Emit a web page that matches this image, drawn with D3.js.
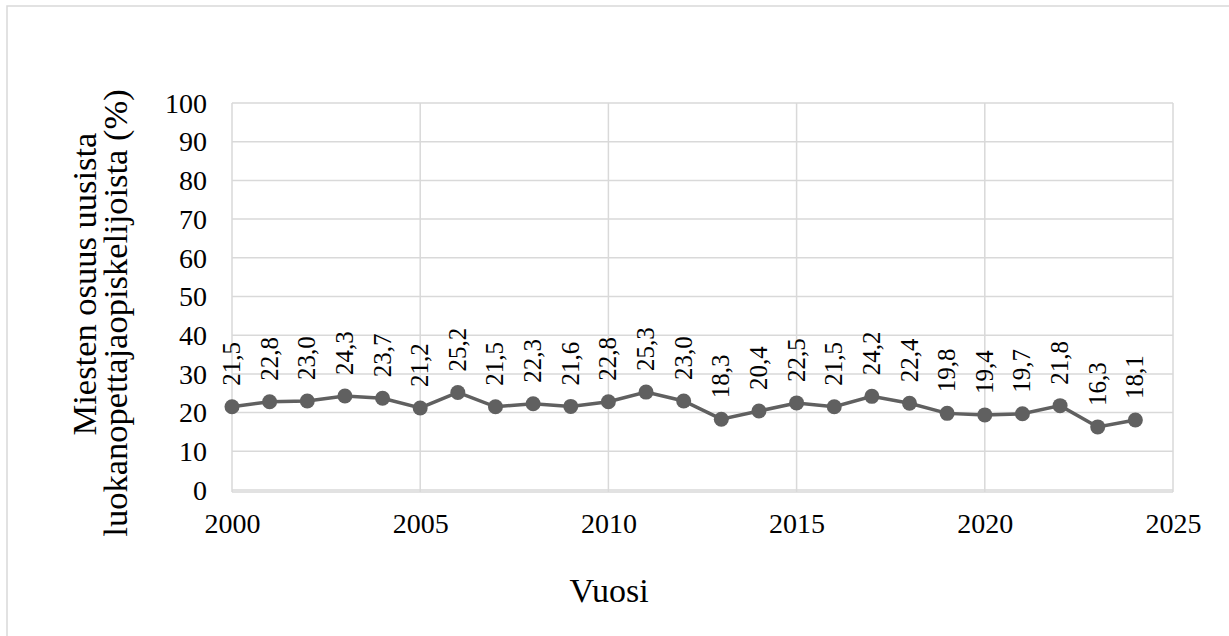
<!DOCTYPE html>
<html><head><meta charset="utf-8">
<script src="https://cdn.jsdelivr.net/npm/d3@7"></script>
<style>body{margin:0;background:#fff}</style>
</head><body>
<svg id="c" width="1229" height="636"></svg>
<script>
const years=[2000,2001,2002,2003,2004,2005,2006,2007,2008,2009,2010,2011,2012,2013,2014,2015,2016,2017,2018,2019,2020,2021,2022,2023,2024];
const values=[21.5,22.8,23.0,24.3,23.7,21.2,25.2,21.5,22.3,21.6,22.8,25.3,23.0,18.3,20.4,22.5,21.5,24.2,22.4,19.8,19.4,19.7,21.8,16.3,18.1];
const xTicks=[2000,2005,2010,2015,2020,2025];
const yTicks=[0,10,20,30,40,50,60,70,80,90,100];
const xTitle="Vuosi";
const yTitle=["Miesten osuus uusista","luokanopettajaopiskelijoista (%)"];

const FF='"Liberation Serif","Times New Roman",serif';
const svg=d3.select("#c");
svg.append("rect").attr("x",7).attr("y",6).attr("width",1240).attr("height",640).attr("fill","none").attr("stroke","#d9d9d9").attr("stroke-width",1.5);
const L=232,R=1173,T=103,B=490;
const x=d3.scaleLinear().domain([2000,2025]).range([L,R]);
const y=d3.scaleLinear().domain([0,100]).range([B,T]);
const g=svg.append("g");
g.selectAll(".hg").data(yTicks).join("line").attr("x1",L).attr("x2",R).attr("y1",d=>y(d)).attr("y2",d=>y(d)).attr("stroke","#d9d9d9").attr("stroke-width",1.5);
g.selectAll(".vg").data(xTicks).join("line").attr("x1",d=>x(d)).attr("x2",d=>x(d)).attr("y1",T).attr("y2",B+2).attr("stroke","#d9d9d9").attr("stroke-width",1.5);
g.append("line").attr("x1",L).attr("x2",R).attr("y1",B+2).attr("y2",B+2).attr("stroke","#d9d9d9").attr("stroke-width",1.5);

const ya=d3.axisLeft(y).tickValues(yTicks).tickSize(0).tickPadding(0);
svg.append("g").attr("transform",`translate(${207},0)`).call(ya).call(a=>a.select(".domain").remove())
 .selectAll("text").style("font-size","28px").style("font-family",FF).attr("fill","#000").attr("dy","0.33em");
const xa=d3.axisBottom(x).tickValues(xTicks).tickFormat(d3.format("d")).tickSize(0).tickPadding(0);
svg.append("g").attr("transform",`translate(0,${533})`).call(xa).call(a=>a.select(".domain").remove())
 .selectAll("text").style("font-size","28px").style("font-family",FF).attr("fill","#000").attr("y",0).attr("dy","0");

const line=d3.line().x((d,i)=>x(years[i])).y(d=>y(d));
svg.append("path").datum(values).attr("d",line).attr("fill","none").attr("stroke","#606060").attr("stroke-width",3.5);
svg.selectAll(".pt").data(values).join("circle").attr("cx",(d,i)=>x(years[i])).attr("cy",d=>y(d)).attr("r",7.5).attr("fill","#606060");
const fmt=v=>v.toFixed(1).replace(".",",");
svg.selectAll(".lb").data(values).join("text")
 .attr("transform",(d,i)=>`translate(${x(years[i])+8},${y(d)-21}) rotate(-90)`)
 .style("font-size","25px").style("font-family",FF).attr("text-anchor","start").text(fmt);

svg.append("text").attr("x",609).attr("y",602).attr("text-anchor","middle").style("font-size","34px").style("font-family",FF).text(xTitle);
svg.append("text").attr("transform",`translate(96,284) rotate(-90)`).attr("text-anchor","middle").style("font-size","34.5px").style("font-family",FF).text(yTitle[0]);
svg.append("text").attr("transform",`translate(127,313) rotate(-90)`).attr("text-anchor","middle").style("font-size","34.5px").style("font-family",FF).text(yTitle[1]);
</script></body></html>
